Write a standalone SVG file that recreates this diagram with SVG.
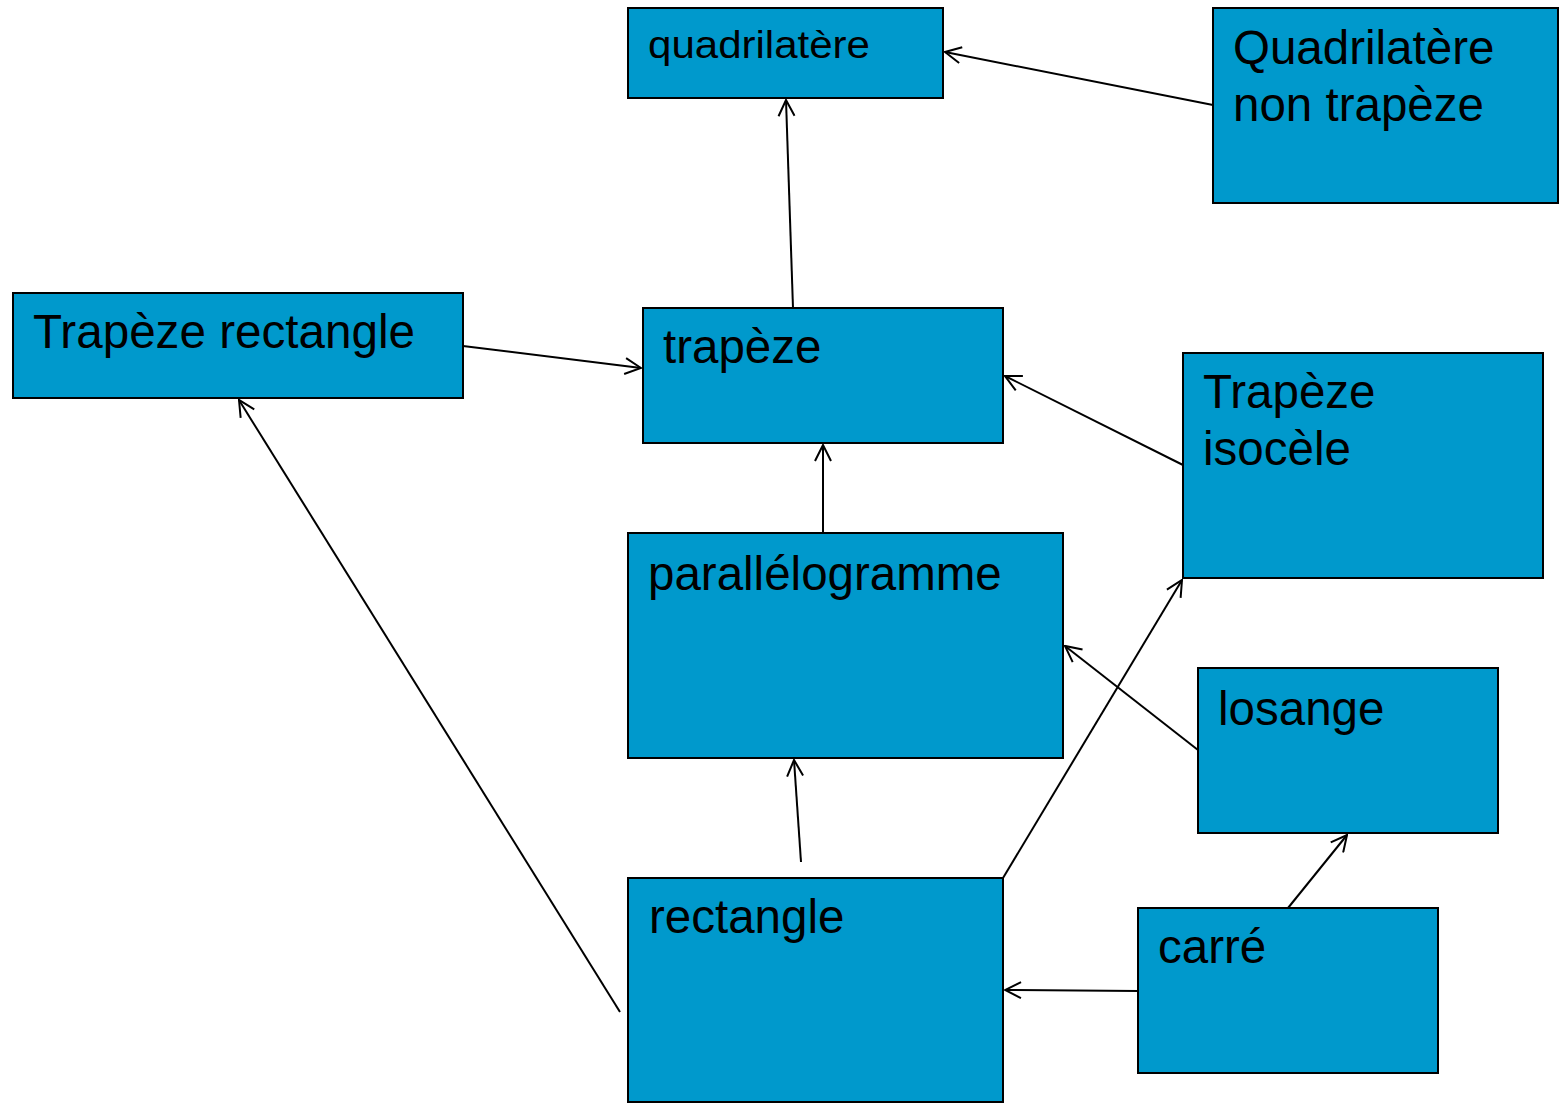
<svg xmlns="http://www.w3.org/2000/svg" width="1562" height="1103" viewBox="0 0 1562 1103">
<defs>
<marker id="arr" viewBox="0 0 18 18" refX="17" refY="9" markerWidth="18" markerHeight="18" markerUnits="userSpaceOnUse" orient="auto">
<path d="M1,1 L17,9 L1,17" fill="none" stroke="#000" stroke-width="2"/>
</marker>
<style>
.box{fill:#0099CC;stroke:#000;stroke-width:2}
.t{font-family:"Liberation Sans",Arial,sans-serif;font-size:47.5px;fill:#000}
.c{stroke:#000;stroke-width:2;fill:none;marker-end:url(#arr)}
</style>
</defs>
<rect width="1562" height="1103" fill="#fff"/>
<g id="connectors">
<line class="c" x1="1213" y1="105" x2="945" y2="52"/>
<line class="c" x1="793" y1="308" x2="786" y2="100"/>
<line class="c" x1="463" y1="346" x2="641" y2="368"/>
<line class="c" x1="1183" y1="465" x2="1005" y2="376"/>
<line class="c" x1="823" y1="533" x2="823" y2="445"/>
<line class="c" x1="1198" y1="750" x2="1065" y2="646"/>
<line class="c" x1="801" y1="862" x2="794" y2="760"/>
<line class="c" x1="1003" y1="878" x2="1182" y2="580"/>
<line class="c" x1="620" y1="1012" x2="239" y2="400"/>
<line class="c" x1="1138" y1="991" x2="1005" y2="990"/>
<line class="c" x1="1288" y1="908" x2="1347" y2="835"/>
</g>
<g id="quadrilatere">
<rect class="box" x="628" y="8" width="315" height="90"/>
<text class="t" x="648" y="58" style="font-size:38px" textLength="222" lengthAdjust="spacingAndGlyphs">quadrilatère</text>
</g>
<g id="quadrilatere-non-trapeze">
<rect class="box" x="1213" y="8" width="345" height="195"/>
<text class="t" x="1233" y="64">Quadrilatère</text>
<text class="t" x="1233" y="121">non trapèze</text>
</g>
<g id="trapeze-rectangle">
<rect class="box" x="13" y="293" width="450" height="105"/>
<text class="t" x="33" y="348" textLength="382" lengthAdjust="spacingAndGlyphs">Trapèze rectangle</text>
</g>
<g id="trapeze">
<rect class="box" x="643" y="308" width="360" height="135"/>
<text class="t" x="663" y="363">trapèze</text>
</g>
<g id="trapeze-isocele">
<rect class="box" x="1183" y="353" width="360" height="225"/>
<text class="t" x="1203" y="408">Trapèze</text>
<text class="t" x="1203" y="465">isocèle</text>
</g>
<g id="parallelogramme">
<rect class="box" x="628" y="533" width="435" height="225"/>
<text class="t" x="648" y="590">parallélogramme</text>
</g>
<g id="losange">
<rect class="box" x="1198" y="668" width="300" height="165"/>
<text class="t" x="1218" y="725">losange</text>
</g>
<g id="rectangle">
<rect class="box" x="628" y="878" width="375" height="224"/>
<text class="t" x="649" y="933">rectangle</text>
</g>
<g id="carre">
<rect class="box" x="1138" y="908" width="300" height="165"/>
<text class="t" x="1158" y="963">carré</text>
</g>
</svg>
